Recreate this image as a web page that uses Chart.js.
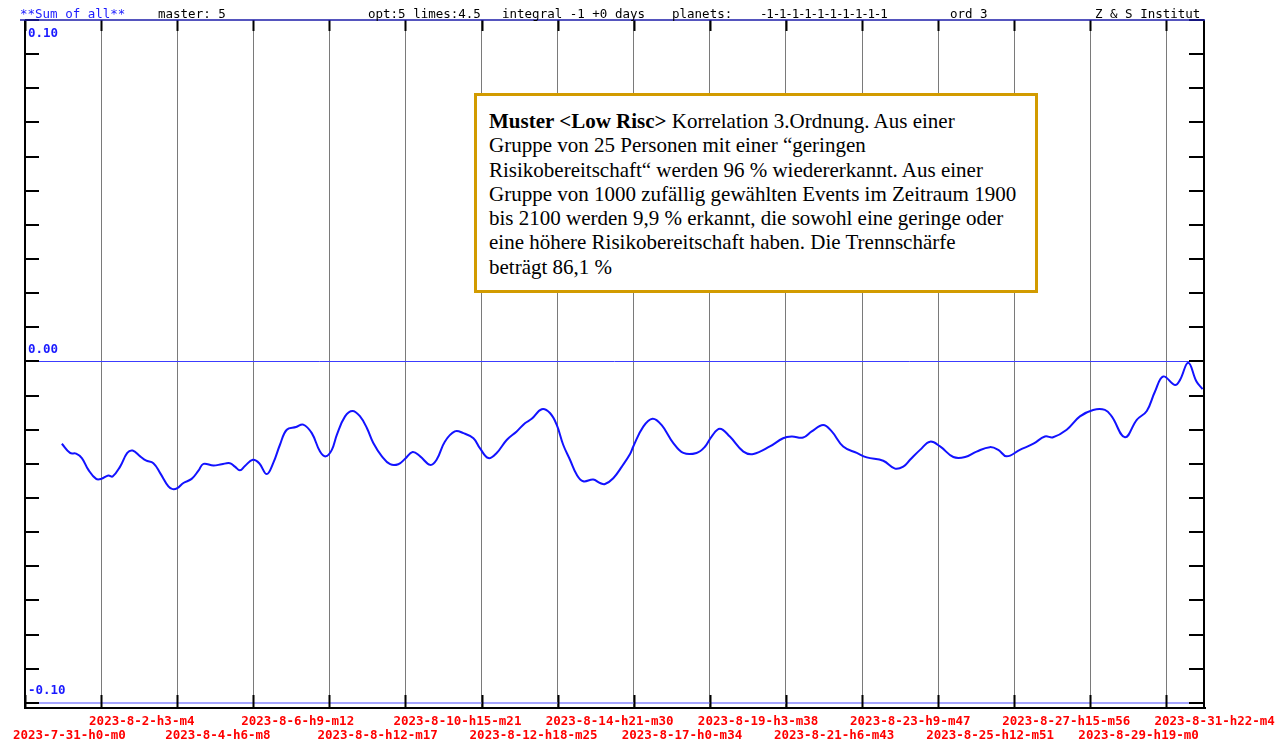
<!DOCTYPE html>
<html>
<head>
<meta charset="utf-8">
<script src="https://cdn.jsdelivr.net/npm/chart.js@4/dist/chart.umd.min.js"></script>
<style>
  body{ margin:0; background:#fff; }
  #wrap{ position:relative; width:1283px; height:742px; overflow:hidden; }
  .hd{ position:absolute; top:6px; font:12.5px 'DejaVu Sans Mono', monospace; color:#000; white-space:pre; }
  #note{ position:absolute; left:474px; top:93px; width:538px; height:173px; border:3px solid #d29b00;
         padding:13px 8px 8px 12px; font:21px 'Liberation Serif', 'Times New Roman', serif; line-height:24.3px; color:#000; background:#fff; white-space:nowrap; }
</style>
</head>
<body>
<div id="wrap">
  <canvas id="sum" width="1283" height="742"></canvas>
  <div class="hd" style="left:20px;color:#1a1aff">**Sum of all**</div>
  <div class="hd" style="left:158px">master: 5</div>
  <div class="hd" style="left:368px">opt:5 limes:4.5</div>
  <div class="hd" style="left:502px">integral -1 +0 days</div>
  <div class="hd" style="left:672px">planets:</div>
  <div class="hd" style="left:760px;letter-spacing:-1.2px">-1-1-1-1-1-1-1-1-1-1</div>
  <div class="hd" style="left:950px">ord 3</div>
  <div class="hd" style="left:1095px">Z &amp; S Institut</div>
  <div id="note"><b>Muster &lt;Low Risc&gt;</b> Korrelation 3.Ordnung. Aus einer<br>Gruppe von 25 Personen mit einer “geringen<br>Risikobereitschaft“ werden 96 % wiedererkannt. Aus einer<br>Gruppe von 1000 zufällig gewählten Events im Zeitraum 1900<br>bis 2100 werden 9,9 % erkannt, die sowohl eine geringe oder<br>eine höhere Risikobereitschaft haben. Die Trennschärfe<br>beträgt 86,1 %</div>
</div>
<script>
// ====== Sum of all – Tage ab 2023-7-31 h0 ======
const sumDays = [
  1.03,1.26,1.43,1.59,1.77,1.99,2.13,2.33,2.45,2.66,
  2.86,3.01,3.22,3.38,3.59,3.78,4.01,4.13,4.26,4.43,
  4.66,4.85,4.99,5.27,5.50,5.73,5.87,6.01,6.15,6.37,
  6.55,6.76,6.94,7.13,7.32,7.58,7.78,8.02,8.25,8.41,
  8.58,8.72,8.95,9.16,9.37,9.56,9.74,9.98,10.21,10.44,
  10.63,10.84,11.05,11.33,11.51,11.74,12.02,12.26,12.54,12.72,
  12.96,13.19,13.47,13.75,13.98,14.17,14.45,14.68,14.87,15.05,
  15.24,15.43,15.61,15.89,16.08,16.22,16.45,16.69,16.92,17.01,
  17.29,17.55,17.80,18.13,18.41,18.78,19.02,19.20,19.43,19.71,
  20.09,20.37,20.83,21.20,21.44,21.76,22.00,22.32,22.56,22.88,
  23.26,23.54,24.00,24.33,24.56,24.75,25.03,25.31,25.59,25.96,
  26.29,26.61,26.98,27.22,27.45,27.82,28.20,28.52,28.75,29.13,
  29.50,29.87,30.20,30.39,30.76,31.09,31.37,31.60,31.83,32.16,
  32.30,32.53,32.76,32.93
];
const sumValues = [
  -0.0241,-0.0268,-0.0270,-0.0283,-0.0317,-0.0344,-0.0344,-0.0334,-0.0337,-0.0308,
  -0.0268,-0.0261,-0.0278,-0.0290,-0.0298,-0.0327,-0.0366,-0.0374,-0.0371,-0.0356,
  -0.0344,-0.0320,-0.0300,-0.0305,-0.0301,-0.0298,-0.0308,-0.0319,-0.0306,-0.0288,
  -0.0298,-0.0330,-0.0298,-0.0244,-0.0200,-0.0192,-0.0185,-0.0210,-0.0264,-0.0278,
  -0.0259,-0.0215,-0.0161,-0.0145,-0.0161,-0.0195,-0.0239,-0.0278,-0.0301,-0.0301,
  -0.0285,-0.0265,-0.0278,-0.0303,-0.0288,-0.0235,-0.0205,-0.0210,-0.0225,-0.0254,
  -0.0283,-0.0268,-0.0230,-0.0205,-0.0181,-0.0168,-0.0140,-0.0151,-0.0186,-0.0244,
  -0.0288,-0.0332,-0.0351,-0.0346,-0.0356,-0.0359,-0.0342,-0.0308,-0.0271,-0.0249,
  -0.0191,-0.0168,-0.0186,-0.0239,-0.0268,-0.0268,-0.0249,-0.0220,-0.0197,-0.0220,
  -0.0264,-0.0271,-0.0249,-0.0225,-0.0220,-0.0223,-0.0205,-0.0186,-0.0205,-0.0249,
  -0.0268,-0.0281,-0.0291,-0.0314,-0.0308,-0.0288,-0.0259,-0.0235,-0.0249,-0.0280,
  -0.0280,-0.0264,-0.0251,-0.0259,-0.0278,-0.0259,-0.0241,-0.0220,-0.0222,-0.0200,
  -0.0161,-0.0142,-0.0142,-0.0161,-0.0222,-0.0171,-0.0145,-0.0088,-0.0044,-0.0069,
  -0.0054,-0.0004,-0.0059,-0.0081
];

// Zeitachse: alle 2 Tage 3h 4m (51.07 h)
const tickStepDays = 51.0718 / 24;
const dateLabels = [
  '2023-7-31-h0-m0','2023-8-2-h3-m4','2023-8-4-h6-m8','2023-8-6-h9-m12',
  '2023-8-8-h12-m17','2023-8-10-h15-m21','2023-8-12-h18-m25','2023-8-14-h21-m30',
  '2023-8-17-h0-m34','2023-8-19-h3-m38','2023-8-21-h6-m43','2023-8-23-h9-m47',
  '2023-8-25-h12-m51','2023-8-27-h15-m56','2023-8-29-h19-m0','2023-8-31-h22-m4'
];
const yLabelValues = [0.10, 0.00, -0.10];
const yMin = -0.1015, yMax = 0.10, yStep = 0.01;

const MONO = "'DejaVu Sans Mono', monospace";

// --- Rahmen, Striche nach innen, Null-Linie ---
const framePlugin = {
  id: 'frame',
  beforeDatasetsDraw(chart){
    const { ctx, chartArea: a, scales: { x, y } } = chart;
    ctx.save();
    // Nullinie & untere Referenz
    const y0 = Math.round(y.getPixelForValue(0)) + 0.5;
    ctx.strokeStyle = '#3c3cff'; ctx.lineWidth = 1;
    ctx.beginPath(); ctx.moveTo(a.left, y0); ctx.lineTo(a.right, y0); ctx.stroke();
    const yB = y.getPixelForValue(-0.10);
    ctx.strokeStyle = '#a6a6ff'; ctx.lineWidth = 2;
    ctx.beginPath(); ctx.moveTo(a.left, yB); ctx.lineTo(a.right, yB); ctx.stroke();

    ctx.strokeStyle = '#000'; ctx.lineWidth = 2;
    // y-Striche links und rechts
    for (let v = yMax; v >= -0.1 - 1e-9; v -= yStep){
      const py = Math.round(y.getPixelForValue(v));
      ctx.beginPath();
      ctx.moveTo(a.left, py); ctx.lineTo(a.left + 14, py);
      ctx.moveTo(a.right, py); ctx.lineTo(a.right - 15, py);
      ctx.stroke();
    }
    // x-Striche oben und unten
    x.ticks.forEach(t => {
      const px = Math.round(x.getPixelForValue(t.value)) + 0.5;
      ctx.beginPath();
      ctx.moveTo(px, a.top); ctx.lineTo(px, a.top + 11);
      ctx.moveTo(px, a.bottom); ctx.lineTo(px, a.bottom - 13);
      ctx.stroke();
    });
    // Achsen
    ctx.beginPath();
    ctx.moveTo(a.left, a.top); ctx.lineTo(a.left, a.bottom + 1);
    ctx.moveTo(a.right, a.top); ctx.lineTo(a.right, a.bottom + 1);
    ctx.moveTo(a.left - 1, a.bottom); ctx.lineTo(a.right + 2, a.bottom);
    ctx.stroke();
    ctx.restore();
  },
  afterDraw(chart){
    const { ctx, chartArea: a, scales: { y } } = chart;
    ctx.save();
    // Kopflinie
    ctx.strokeStyle = '#1c1ca8'; ctx.lineWidth = 1.5;
    ctx.beginPath(); ctx.moveTo(20, a.top); ctx.lineTo(a.right + 1, a.top); ctx.stroke();
    // y-Beschriftung im Diagramm
    ctx.fillStyle = '#1a1aff'; ctx.font = `bold 12.5px ${MONO}`;
    ctx.textAlign = 'left'; ctx.textBaseline = 'middle';
    yLabelValues.forEach(v => {
      const py = y.getPixelForValue(v);
      ctx.fillText(v.toFixed(2), a.left + 3, v >= yMax ? py + 13.5 : py - 12);
    });
    ctx.restore();
  }
};

new Chart(document.getElementById('sum'), {
  type: 'line',
  data: { datasets: [{
    data: sumDays.map((d, i) => ({ x: d, y: sumValues[i] })),
    borderColor: '#1212ff', borderWidth: 2, pointRadius: 0, tension: 0.4, fill: false
  }]},
  options: {
    responsive: false, animation: false, parsing: false,
    layout: { padding: { top: 20, left: 25, right: 79, bottom: 0 } },
    plugins: { legend: { display: false }, tooltip: { enabled: false } },
    scales: {
      x: {
        type: 'linear', min: 0, max: 32.97,
        afterBuildTicks: s => { s.ticks = dateLabels.map((_, i) => ({ value: i * tickStepDays })); },
        afterFit: s => { s.height = 34; s.paddingLeft = 0; s.paddingRight = 0; },
        grid: { color: '#7a7a7a', lineWidth: 1, drawTicks: false },
        border: { display: false },
        ticks: {
          autoSkip: false, maxRotation: 0, align: 'start', labelOffset: -12, padding: 7,
          color: '#ff0000', font: { family: MONO, size: 12.5, weight: 'bold', lineHeight: 1.1 },
          callback: (v, i) => i % 2 ? [dateLabels[i], ''] : ['', dateLabels[i]]
        }
      },
      y: {
        type: 'linear', min: yMin, max: yMax,
        afterFit: s => { s.width = 0; },
        grid: { display: false }, border: { display: false },
        ticks: { display: false }
      }
    }
  },
  plugins: [framePlugin]
});
</script>
</body>
</html>
